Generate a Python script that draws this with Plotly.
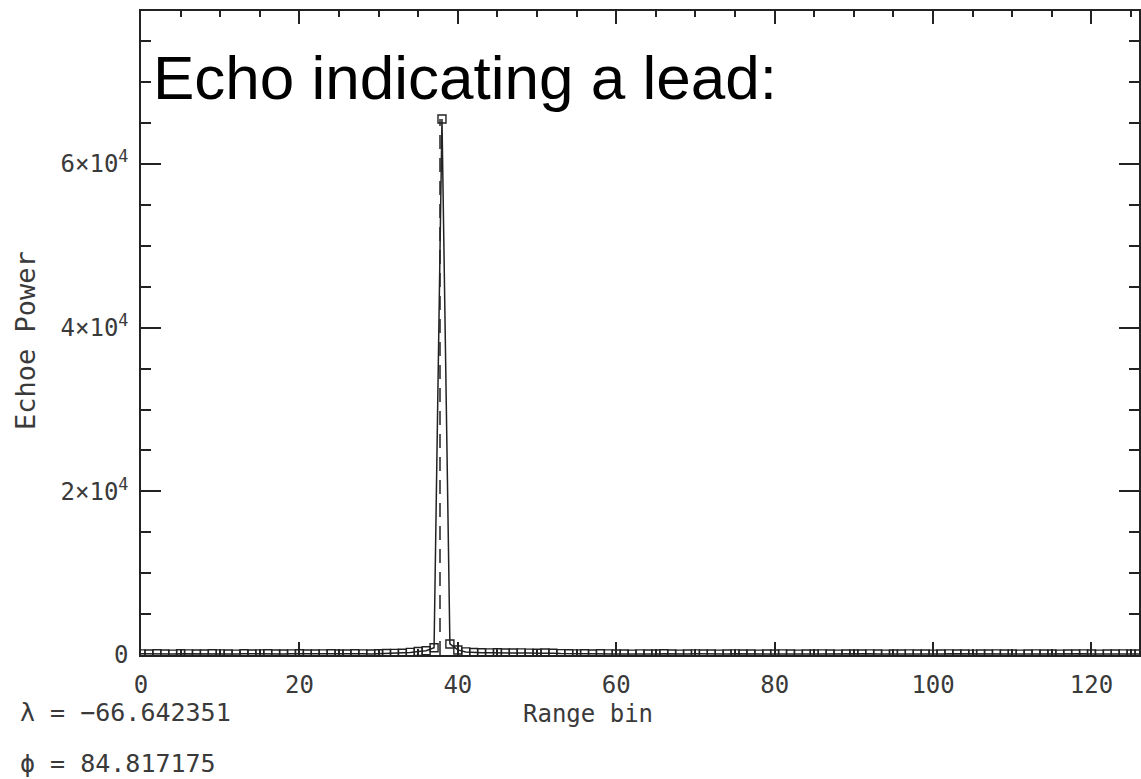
import plotly.graph_objects as go

# Range-bin index of each echo sample
range_bin = list(range(128))

# Echo power per range bin
echo_power = [
    140, 120, 150, 130, 110, 160, 140, 120, 130, 150,
    140, 120, 110, 150, 130, 140, 160, 120, 130, 140,
    150, 130, 120, 140, 160, 130, 120, 150, 140, 130,
    160, 180, 200, 220, 320, 420, 520, 880, 65500, 1350,
    620, 380, 300, 280, 260, 270, 250, 240, 260, 230,
    220, 240, 210, 170, 150, 140, 160, 130, 150, 140,
    120, 130, 110, 140, 120, 130, 150, 120, 110, 130,
    140, 120, 130, 110, 120, 140, 130, 120, 110, 130,
    120, 140, 130, 110, 120, 130, 140, 120, 110, 130,
    120, 130, 140, 120, 110, 120, 130, 140, 120, 130,
    110, 120, 140, 130, 120, 110, 130, 120, 140, 130,
    120, 110, 130, 140, 120, 130, 110, 120, 130, 140,
    120, 110, 130, 120, 140, 130, 120, 110,
]
assert len(echo_power) == len(range_bin)

# Retracked leading-edge position (dashed marker line)
lead_bin = [37.75, 37.75]
lead_power = [0, 65500]

# Axis ticks
x_ticks = [0, 20, 40, 60, 80, 100, 120]
y_ticks = [0, 20000, 40000, 60000]
y_tick_text = ["0", "2×10<sup>4</sup>", "4×10<sup>4</sup>", "6×10<sup>4</sup>"]

# Footprint coordinates printed under the plot
lon_text = "λ = −66.642351"
lat_text = "ϕ = 84.817175"

ink = "#222222"
mono = "DejaVu Sans Mono, monospace"

fig = go.Figure()
fig.add_trace(go.Scatter(
    x=range_bin, y=echo_power, mode="lines+markers",
    line=dict(color=ink, width=1.5),
    marker=dict(symbol="square-open", size=8, color=ink, line=dict(width=1.4, color=ink)),
    showlegend=False, hoverinfo="x+y",
))
fig.add_trace(go.Scatter(
    x=lead_bin, y=lead_power, mode="lines",
    line=dict(color=ink, width=1.5, dash="14px,9px"),
    showlegend=False,
))

axis_common = dict(
    showgrid=False, zeroline=False, showline=True, linecolor=ink, linewidth=1.5,
    mirror="ticks", ticks="inside", tickcolor=ink, tickwidth=1.5,
    tickfont=dict(family=mono, size=24, color="#3a3a3a"),
)

fig.update_xaxes(
    **axis_common,
    range=[0, 126.0], tickvals=x_ticks, ticklen=13, ticklabelstandoff=7,
    minor=dict(dtick=5, ticks="inside", ticklen=6, tickcolor=ink, tickwidth=1.5),
)
fig.update_yaxes(
    **axis_common,
    range=[0, 78700], tickvals=y_ticks, ticktext=y_tick_text, ticklen=20, ticklabelstandoff=6,
    minor=dict(dtick=5000, ticks="inside", ticklen=10, tickcolor=ink, tickwidth=1.5),
)

ann_font = dict(family=mono, size=24, color="#3a3a3a")
coord_font = dict(family=mono, size=25, color="#3a3a3a")
fig.update_layout(
    width=1141, height=779,
    margin=dict(l=141, r=0, t=11, b=124),
    paper_bgcolor="white", plot_bgcolor="white",
    annotations=[
        dict(text="Echo indicating a lead:", xref="paper", yref="paper", x=0.010, y=0.896,
             xanchor="left", yanchor="middle", showarrow=False,
             font=dict(family="Liberation Sans, Arial, sans-serif", size=62, color="black")),
        dict(text="Range bin", xref="paper", yref="paper", x=0.448, y=-0.092,
             xanchor="center", yanchor="middle", showarrow=False, font=ann_font),
        dict(text="Echoe Power", xref="paper", yref="paper", x=-0.116, y=0.488,
             xanchor="center", yanchor="middle", textangle=-90, showarrow=False,
             font=dict(family=mono, size=27, color="#3a3a3a")),
        dict(text=lon_text, xref="paper", yref="paper", x=-0.123, y=-0.090,
             xanchor="left", yanchor="middle", showarrow=False, font=coord_font),
        dict(text=lat_text, xref="paper", yref="paper", x=-0.123, y=-0.168,
             xanchor="left", yanchor="middle", showarrow=False, font=coord_font),
    ],
)

fig.write_html("out.html")
